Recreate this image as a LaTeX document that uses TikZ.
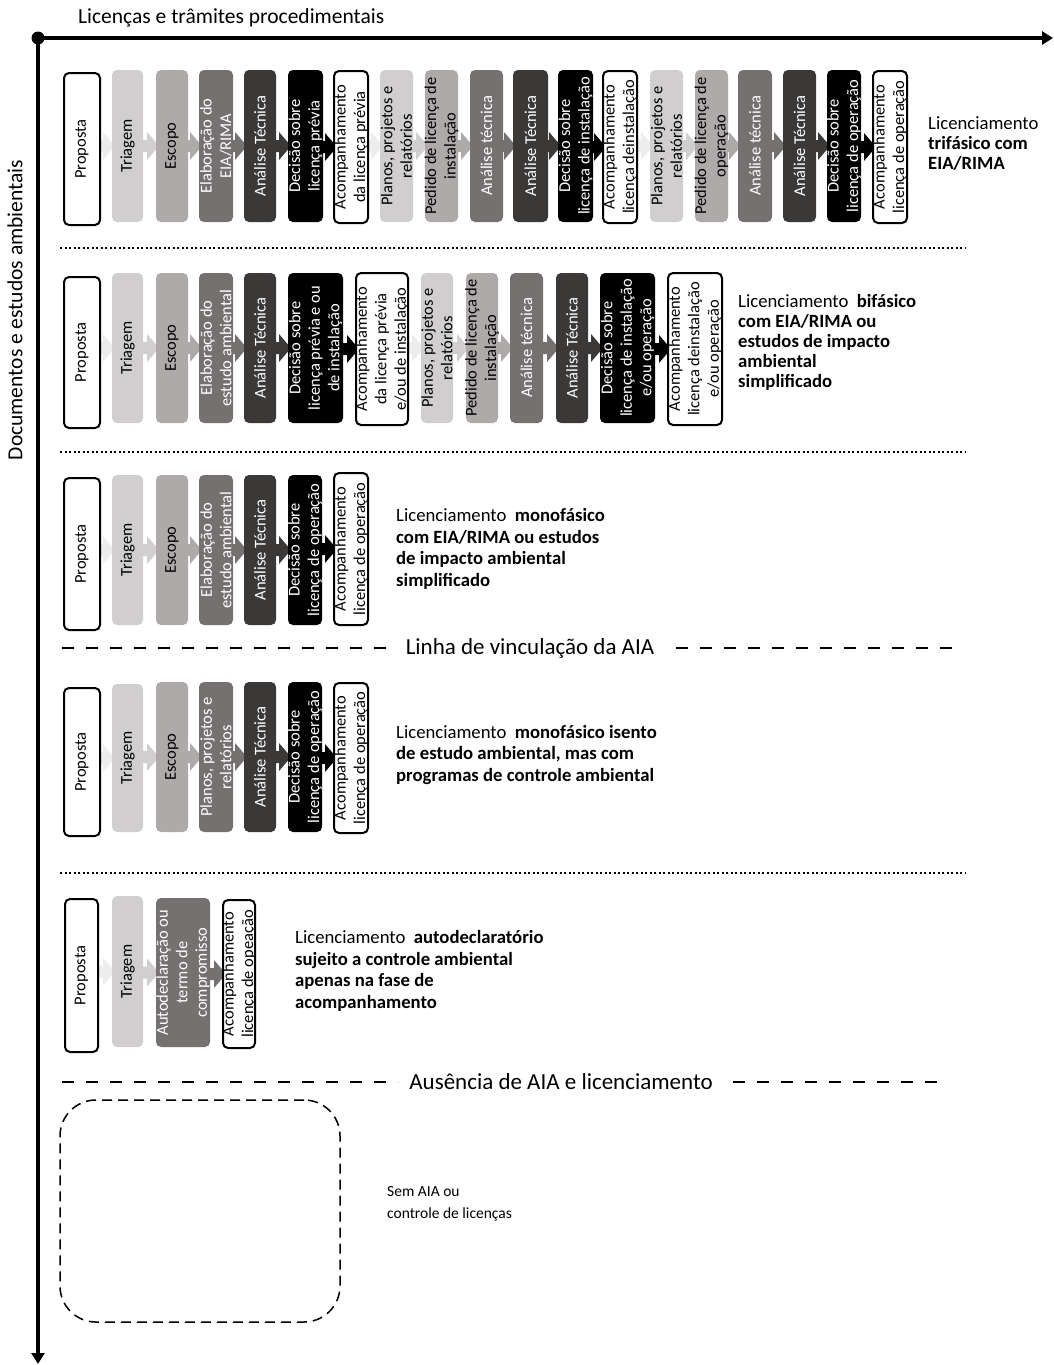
\documentclass[tikz,border=0pt]{standalone}
\usepackage{fontspec}
\setmainfont{Carlito}
\usetikzlibrary{arrows.meta,backgrounds,calc}

\definecolor{gA}{HTML}{D0CECE}
\definecolor{gB}{HTML}{AEAAAA}
\definecolor{gC}{HTML}{767171}
\definecolor{gD}{HTML}{3B3838}
\definecolor{gW}{HTML}{EDEDED}

\newcommand\boxfont{\fontsize{16.5}{19.5}\selectfont}
\newcommand\lblfont{\fontsize{18.7}{20}\selectfont}
\newcommand\lblfontb{\fontsize{18.7}{21.5}\selectfont}
\newcommand\axisfont{\fontsize{21.5}{25}\selectfont}
\newcommand\sepfontsize{\fontsize{23}{27}\selectfont}

\tikzset{
  stagebox/.style={rounded corners=5pt, inner sep=0pt, outer sep=0pt},
  sw/.style={stagebox, draw=black, line width=2pt, fill=white},
  s1/.style={stagebox, fill=gA},
  s2/.style={stagebox, fill=gB},
  s3/.style={stagebox, fill=gC},
  s4/.style={stagebox, fill=gD},
  sk/.style={stagebox, fill=black},
  stagetxt/.style={rotate=90, align=center, inner sep=0pt, font=\boxfont},
  lbl/.style={anchor=west, align=left, inner sep=0pt, font=\lblfont},
  lblb/.style={anchor=west, align=left, inner sep=0pt, font=\lblfontb},
  axisline/.style={line width=4.5pt, -{Triangle[length=11pt,width=13pt]}},
  dotsep/.style={line width=2.5pt, dash pattern=on 2.2pt off 2.3pt},
  dashsep/.style={line width=2.5pt, dash pattern=on 12pt off 12pt},
  axislabel/.style={inner sep=0pt, font=\axisfont},
  seplabel/.style={inner sep=0pt, font=\sepfontsize},
}

% stage box: name, x left, x right, y top, y bottom, box style, text colour, text
\newcommand\stage[8]{%
  \node[#6, minimum width={(#3-#2)*1pt}, minimum height={(#5-#4)*1pt}] (#1) at ({(#2+#3)/2},{(#4+#5)/2}) {};
  \node[stagetxt, text=#7] (#1t) at (#1.center) {#8};
}

% block arrow from one stage to the next
\newcommand\flow[3]{%
  \fill[#3] let \p1=(#1.east), \p2=(#2.west) in
    (\x1-1pt,\y2+6pt) -- (\x2-9pt,\y2+6pt) -- (\x2-9pt,\y2+14pt) -- (\x2+3pt,\y2)
    -- (\x2-9pt,\y2-14pt) -- (\x2-9pt,\y2-6pt) -- (\x1-1pt,\y2-6pt) -- cycle;
}

\begin{document}
\begin{tikzpicture}[x=1pt,y=-1pt]
\useasboundingbox (0,0) rectangle (1054,1365);

% axes
\coordinate (origin) at (38,38);
\coordinate (xend) at (1053,38);
\coordinate (yend) at (38,1364);
\draw[axisline] (origin) -- (xend);
\draw[axisline] (origin) -- (yend);
\fill (origin) circle (6.5);
\node[axislabel, anchor=west] (xlabel) at (78,18) {Licenças e trâmites procedimentais};
\node[axislabel, rotate=90] (ylabel) at (15,310) {Documentos e estudos ambientais};

% row 1: three-phase licensing
\stage{a1}{64}{100}{73}{225}{sw}{black}{Proposta}
\stage{a2}{112}{143}{70}{222}{s1}{black}{Triagem}
\stage{a3}{156}{188}{70}{222}{s2}{black}{Escopo}
\stage{a4}{199}{233}{70}{222}{s3}{white}{Elaboração do\\EIA/RIMA}
\stage{a5}{244}{276}{70}{222}{s4}{white}{Análise Técnica}
\stage{a6}{288}{323}{70}{222}{sk}{white}{Decisão sobre\\licença prévia}
\stage{a7}{334}{368}{71}{223}{sw}{black}{Acompanhamento\\da licença prévia}
\stage{a8}{380}{413}{70}{222}{s1}{black}{Planos, projetos e\\relatórios}
\stage{a9}{425}{458}{70}{222}{s2}{black}{Pedido de licença de\\instalação}
\stage{a10}{470}{503}{70}{222}{s3}{white}{Análise técnica}
\stage{a11}{513}{548}{70}{222}{s4}{white}{Análise Técnica}
\stage{a12}{558}{593}{70}{222}{sk}{white}{Decisão sobre\\licença de instalação}
\stage{a13}{603}{637}{71}{223}{sw}{black}{Acompanhamento\\licença deinstalação}
\stage{a14}{650}{683}{70}{222}{s1}{black}{Planos, projetos e\\relatórios}
\stage{a15}{695}{728}{70}{222}{s2}{black}{Pedido de licença de\\operação}
\stage{a16}{738}{772}{70}{222}{s3}{white}{Análise técnica}
\stage{a17}{783}{816}{70}{222}{s4}{white}{Análise Técnica}
\stage{a18}{827}{861}{70}{222}{sk}{white}{Decisão sobre\\licença de operação}
\stage{a19}{873}{907}{71}{223}{sw}{black}{Acompanhamento\\licença de operação}
\node[lbl] (la) at (928,143) {Licenciamento\\\textbf{trifásico com}\\\textbf{EIA/RIMA}};

\draw[dotsep] (60,248) -- (966,248);

% row 2: two-phase licensing
\stage{b1}{64}{100}{277}{428}{sw}{black}{Proposta}
\stage{b2}{112}{143}{273}{423}{s1}{black}{Triagem}
\stage{b3}{156}{188}{273}{423}{s2}{black}{Escopo}
\stage{b4}{199}{233}{273}{423}{s3}{white}{Elaboração do\\estudo ambiental}
\stage{b5}{244}{276}{273}{423}{s4}{white}{Análise Técnica}
\stage{b6}{288}{343}{273}{423}{sk}{white}{Decisão sobre\\licença prévia e ou\\de instalação}
\stage{b7}{356}{408}{273}{425}{sw}{black}{Acompanhamento\\da licença prévia\\e/ou de instalação}
\stage{b8}{421}{453}{273}{423}{s1}{black}{Planos, projetos e\\relatórios}
\stage{b9}{466}{498}{273}{423}{s2}{black}{Pedido de licença de\\instalação}
\stage{b10}{510}{543}{273}{423}{s3}{white}{Análise técnica}
\stage{b11}{556}{588}{273}{423}{s4}{white}{Análise Técnica}
\stage{b12}{600}{655}{273}{423}{sk}{white}{Decisão sobre\\licença de instalação\\e/ou operação}
\stage{b13}{668}{722}{273}{425}{sw}{black}{Acompanhamento\\licença deinstalação\\e/ou operação}
\node[lbl] (lb) at (738,342) {Licenciamento~ \textbf{bifásico}\\\textbf{com EIA/RIMA ou}\\\textbf{estudos de impacto}\\\textbf{ambiental}\\\textbf{simplificado}};

\draw[dotsep] (60,452) -- (966,452);

% row 3: single-phase licensing with study
\stage{c1}{64}{100}{478}{630}{sw}{black}{Proposta}
\stage{c2}{112}{143}{475}{625}{s1}{black}{Triagem}
\stage{c3}{156}{188}{475}{625}{s2}{black}{Escopo}
\stage{c4}{199}{233}{475}{625}{s3}{white}{Elaboração do\\estudo ambiental}
\stage{c5}{244}{276}{475}{625}{s4}{white}{Análise Técnica}
\stage{c6}{288}{322}{475}{625}{sk}{white}{Decisão sobre\\licença de operação}
\stage{c7}{334}{368}{473}{625}{sw}{black}{Acompanhamento\\licença de operação}
\node[lblb] (lc) at (396,549) {Licenciamento~ \textbf{monofásico}\\\textbf{com EIA/RIMA ou estudos}\\\textbf{de impacto ambiental}\\\textbf{simplificado}};

% impact assessment threshold
\node[seplabel] (aia) at (530,648) {Linha de vinculação da AIA};
\draw[dashsep] (62,648) -- (396,648);
\draw[dashsep] (676,648) -- (956,648);

% row 4: single-phase licensing without study
\stage{d1}{64}{100}{688}{836}{sw}{black}{Proposta}
\stage{d2}{112}{143}{684}{832}{s1}{black}{Triagem}
\stage{d3}{156}{188}{682}{832}{s2}{black}{Escopo}
\stage{d4}{199}{233}{682}{832}{s3}{white}{Planos, projetos e\\relatórios}
\stage{d5}{244}{276}{682}{832}{s4}{white}{Análise Técnica}
\stage{d6}{288}{322}{682}{832}{sk}{white}{Decisão sobre\\licença de operação}
\stage{d7}{334}{368}{683}{833}{sw}{black}{Acompanhamento\\licença de operação}
\node[lblb] (ld) at (396,755) {Licenciamento~ \textbf{monofásico isento}\\\textbf{de estudo ambiental, mas com}\\\textbf{programas de controle ambiental}};

\draw[dotsep] (60,873) -- (966,873);

% row 5: self-declared licensing
\stage{e1}{65}{98}{899}{1052}{sw}{black}{Proposta}
\stage{e2}{112}{143}{896}{1047}{s1}{black}{Triagem}
\stage{e3}{156}{210}{898}{1047}{s3}{white}{Autodeclaração ou\\termo de\\compromisso}
\stage{e4}{223}{255}{900}{1048}{sw}{black}{Acompanhamento\\licença de opeação}
\node[lblb] (le) at (295,971) {Licenciamento~ \textbf{autodeclaratório}\\\textbf{sujeito a controle ambiental}\\\textbf{apenas na fase de}\\\textbf{acompanhamento}};

% no assessment
\node[seplabel] (noaia) at (561,1082) {Ausência de AIA e licenciamento};
\draw[dashsep] (62,1082) -- (398,1082);
\draw[dashsep] (733,1082) -- (946,1082);
\node[draw, line width=1.5pt, dash pattern=on 10pt off 6pt, rounded corners=36pt,
      minimum width=280pt, minimum height=222pt, inner sep=0pt] (none) at (200,1211) {};
\node[anchor=west, align=left, inner sep=0pt, font=\fontsize{15.5}{22}\selectfont] (lf) at (387,1204) {Sem AIA ou\\controle de licenças};

% stage arrows behind the boxes
\begin{pgfonlayer}{background}
\flow{a1}{a2}{gW}\flow{a2}{a3}{gA}\flow{a3}{a4}{gB}\flow{a4}{a5}{gC}\flow{a5}{a6}{gD}\flow{a6}{a7}{black}
\flow{a7}{a8}{gW}\flow{a8}{a9}{gA}\flow{a9}{a10}{gB}\flow{a10}{a11}{gC}\flow{a11}{a12}{gD}\flow{a12}{a13}{black}
\flow{a13}{a14}{gW}\flow{a14}{a15}{gA}\flow{a15}{a16}{gB}\flow{a16}{a17}{gC}\flow{a17}{a18}{gD}\flow{a18}{a19}{black}
\flow{b1}{b2}{gW}\flow{b2}{b3}{gA}\flow{b3}{b4}{gB}\flow{b4}{b5}{gC}\flow{b5}{b6}{gD}\flow{b6}{b7}{black}
\flow{b7}{b8}{gW}\flow{b8}{b9}{gA}\flow{b9}{b10}{gB}\flow{b10}{b11}{gC}\flow{b11}{b12}{gD}\flow{b12}{b13}{black}
\flow{c1}{c2}{gW}\flow{c2}{c3}{gA}\flow{c3}{c4}{gB}\flow{c4}{c5}{gC}\flow{c5}{c6}{gD}\flow{c6}{c7}{black}
\flow{d1}{d2}{gW}\flow{d2}{d3}{gA}\flow{d3}{d4}{gB}\flow{d4}{d5}{gC}\flow{d5}{d6}{gD}\flow{d6}{d7}{black}
\flow{e1}{e2}{gW}\flow{e2}{e3}{gA}\flow{e3}{e4}{gC}
\end{pgfonlayer}
\end{tikzpicture}
\end{document}
